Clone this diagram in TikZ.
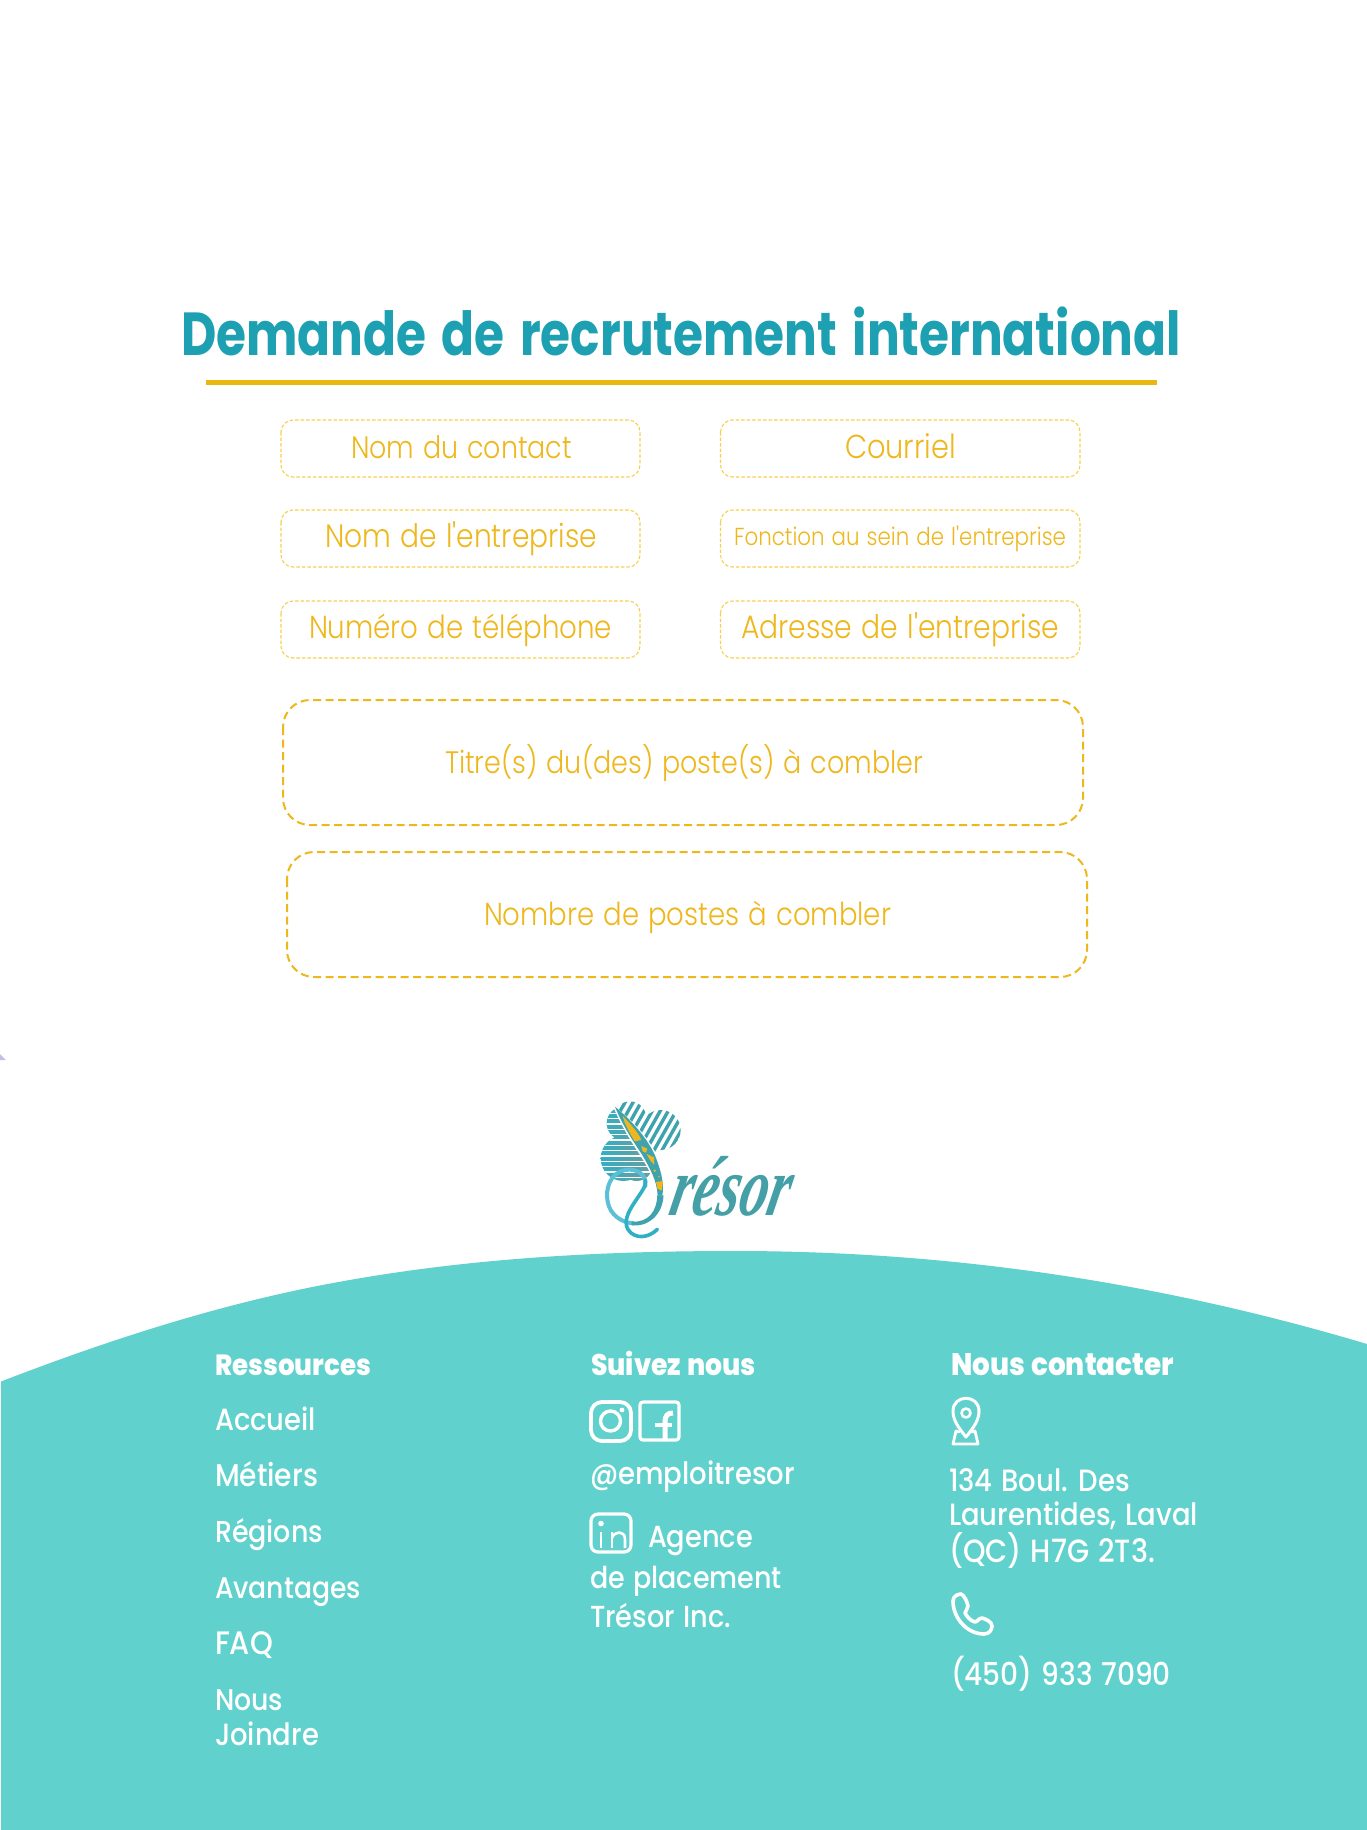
\documentclass[tikz,border=0pt]{standalone}
\usepackage{fontspec}
\usepackage{graphicx}
\setmainfont{Poppins}
\newfontfamily\flight[WordSpace=1.2]{Poppins Light}
\newfontfamily\fmed[WordSpace=1.2]{Poppins Medium}
\newfontfamily\fsemi[WordSpace=1.5]{Poppins Bold}
\newfontfamily\fxbold[WordSpace=1.2]{Poppins ExtraBold}
\newfontfamily\flogo{Liberation Serif}
\definecolor{teal1}{HTML}{1DA0B2}
\definecolor{gold}{HTML}{EEB71C}
\definecolor{goldu}{HTML}{E8B710}
\definecolor{goldl}{HTML}{F6D04A}
\definecolor{band}{HTML}{61D1CD}
\definecolor{lgA}{HTML}{3FA3AE}
\definecolor{lgB}{HTML}{2FB0C4}
\definecolor{lgC}{HTML}{6E9C9C}
\definecolor{lgT}{HTML}{449FA6}
\definecolor{lgQ}{HTML}{5BBFD8}
\usetikzlibrary{calc}
\tikzset{
  tx/.style={anchor=base west,inner sep=0pt,outer sep=0pt},
  smallbox/.style={draw=goldl,line width=1.1pt,dash pattern=on 3.5pt off 2pt,rounded corners=12pt},
  bigbox/.style={draw=gold,line width=2pt,dash pattern=on 8pt off 4.5pt,rounded corners=27pt},
  icon/.style={draw=white,line width=3pt,line cap=round,line join=round},
}
% name, x, baseline, width, y-stretch, colour, font, text
\newcommand\tb[8]{\node[tx,text=#6] (#1) at (#2,#3) {\scalebox{1}[#5]{\resizebox{#4pt}{!}{#7\fontsize{40}{48}\selectfont #8}}};}
\begin{document}
\begin{tikzpicture}[x=1pt,y=-1pt]
\useasboundingbox (0,0) rectangle (1367,1830);
\fill[white] (0,0) rectangle (1367,1830);

% title
\tb{title}{181}{355}{1000}{1.25}{teal1}{\fsemi}{Demande de recrutement international}
\coordinate (ulA) at (206,382.5); \coordinate (ulB) at (1157,382.5);
\draw[goldu,line width=5pt] (ulA) -- (ulB);

% small boxes
\draw[smallbox] (281,420) rectangle (640,477);
\draw[smallbox] (720.5,420) rectangle (1080,477);
\draw[smallbox] (281,510) rectangle (640,567);
\draw[smallbox] (720.5,510) rectangle (1080,567);
\draw[smallbox] (281,601) rectangle (640,658);
\draw[smallbox] (720.5,601) rectangle (1080,658);
\draw[bigbox] (283,700) rectangle (1083,825);
\draw[bigbox] (287,852) rectangle (1087,977);

\tb{f1}{351}{458}{221}{1.15}{gold}{\flight}{Nom du contact}
\tb{f2}{845}{458}{111}{1.15}{gold}{\flight}{Courriel}
\tb{f3}{325}{547}{272}{1.15}{gold}{\flight}{Nom de l'entreprise}
\tb{f4}{734}{545}{332}{1.15}{gold}{\flight}{Fonction au sein de l'entreprise}
\tb{f5}{309}{638}{303}{1.15}{gold}{\flight}{Numéro de téléphone}
\tb{f6}{741}{638}{318}{1.15}{gold}{\flight}{Adresse de l'entreprise}
\tb{f7}{445}{773}{478}{1.15}{gold}{\flight}{Titre(s) du(des) poste(s) à combler}
\tb{f8}{484}{925}{407}{1.15}{gold}{\flight}{Nombre de postes à combler}

% corner speck
\fill[black!30!blue!25] (0,1054) -- (6,1060) -- (0,1060) -- cycle;

% footer
\fill[band] (1,1381.5) .. controls (111,1339) and (222,1303.5) .. (333,1283)
  .. controls (467,1258) and (601,1251) .. (735,1251)
  .. controls (946,1251) and (1156,1281) .. (1367,1344) -- (1367,1830) -- (1,1830) -- cycle;

% logo
\begin{scope}[shift={(570,1080)},x=0.3333pt,y=-0.3333pt]
  % upper cloud with diagonal stripes
  \begin{scope}
    \clip (135,78) .. controls (185,125) and (230,190) .. (265,243) -- (345,243) -- (345,55) -- (135,55) -- cycle;
    \clip (180,112) circle (48) (272,150) circle (60) (228,185) circle (48);
    \foreach \i in {-4,...,14} {
      \draw[lgA,line width=3.4pt] ($(110,250)+(\i*24,0)$) -- ++(110,-195);
    }
  \end{scope}
  % left cloud with horizontal stripes
  \begin{scope}
    \clip (130,80) .. controls (170,130) and (215,195) .. (250,262) -- (245,320) -- (80,320) -- (80,60) -- (130,60) -- cycle;
    \clip (160,130) circle (50) (160,235) circle (68) (200,255) circle (48);
    \shade[left color=lgB,right color=lgC] (85,70) rectangle (255,320);
    \foreach \i in {0,...,15} {
      \draw[white,line width=1.5pt] (85,{84+\i*16}) -- (255,{84+\i*16});
    }
  \end{scope}
  % Q ribbon
  \draw[lgQ,line width=4pt,line cap=round] (226,318)
    .. controls (232,285) and (200,263) .. (165,270)
    .. controls (122,278) and (105,325) .. (113,365)
    .. controls (120,405) and (155,428) .. (190,430);
  \draw[lgB,line width=3.6pt,line cap=round] (262,448)
    .. controls (235,475) and (195,478) .. (175,450)
    .. controls (155,420) and (185,380) .. (205,350)
    .. controls (218,330) and (228,320) .. (226,300);
  \fill[lgA] (185,425) .. controls (235,428) and (262,395) .. (262,340)
    -- (280,335) .. controls (285,390) and (245,442) .. (185,436) -- cycle;
  % leaf
  \fill[white] (128,76) .. controls (190,120) and (250,190) .. (268,245)
    .. controls (283,285) and (288,320) .. (282,345) -- (258,345)
    .. controls (255,300) and (235,265) .. (210,225) .. controls (180,180) and (150,130) .. (128,76) -- cycle;
  \fill[lgA] (135,80) .. controls (190,125) and (245,190) .. (262,245)
    .. controls (277,285) and (282,320) .. (277,345) -- (263,345)
    .. controls (260,300) and (240,265) .. (215,222)
    .. controls (185,178) and (155,130) .. (135,80) -- cycle;
  \fill[gold] (158,108) .. controls (180,130) and (205,158) .. (214,180) -- (194,184) .. controls (180,160) and (165,135) .. (158,108) -- cycle;
  \fill[gold] (214,198) -- (232,206) -- (228,218) -- (218,214) -- cycle;
  \fill[gold] (230,222) -- (252,232) -- (252,254) -- (240,240) -- cycle;
  \fill[gold] (258,306) -- (279,303) -- (275,332) -- (263,326) -- cycle;
  \fill[gold] (254,272) circle (4) (267,290) circle (2.5);
  % wordmark
  \begin{scope}[shift={(292,405)},xslant=0.22]
    \node[anchor=base west,inner sep=0pt,text=lgT,transform shape] (logotxt) at (0,0)
      {\scalebox{0.74}[1.12]{\flogo\bfseries\itshape\fontsize{76}{80}\selectfont résor}};
  \end{scope}
\end{scope}

% footer headings
\tb{h1}{215}{1375}{156}{1.12}{white}{\fxbold}{Ressources}
\tb{h2}{591}{1375}{165}{1.12}{white}{\fxbold}{Suivez nous}
\tb{h3}{951}{1375}{223}{1.12}{white}{\fxbold}{Nous contacter}

\tb{l1}{215}{1430}{101}{1.12}{white}{\fmed}{Accueil}
\tb{l2}{215}{1486}{103}{1.12}{white}{\fmed}{Métiers}
\tb{l3}{215}{1542}{108}{1.12}{white}{\fmed}{Régions}
\tb{l4}{215}{1598}{146}{1.12}{white}{\fmed}{Avantages}
\tb{l5}{215}{1654}{58}{1.12}{white}{\fmed}{FAQ}
\tb{l6}{215}{1710}{68}{1.12}{white}{\fmed}{Nous}
\tb{l7}{215}{1745}{104}{1.12}{white}{\fmed}{Joindre}

\tb{m1}{590}{1484}{205}{1.12}{white}{\fmed}{@emploitresor}
\tb{m2}{648}{1547}{105}{1.12}{white}{\fmed}{Agence}
\tb{m3}{590}{1588}{192}{1.12}{white}{\fmed}{de placement}
\tb{m4}{590}{1627}{141}{1.12}{white}{\fmed}{Trésor Inc.}

\tb{r1}{949}{1491}{181}{1.12}{white}{\fmed}{134 Boul. Des}
\tb{r2}{949}{1525}{249}{1.12}{white}{\fmed}{Laurentides, Laval}
\tb{r3}{949}{1562}{206}{1.12}{white}{\fmed}{(QC) H7G 2T3.}
\tb{r4}{951}{1685}{220}{1.12}{white}{\fmed}{(450) 933 7090}

% instagram
\draw[icon,line width=3.8pt] (591,1402) [rounded corners=11pt] rectangle (631,1441);
\draw[icon,line width=3.4pt] (610.5,1421) circle (10);
\fill[white] (622,1410) circle (2.4);
% facebook
\draw[icon,line width=3.2pt] (640,1402) [rounded corners=3pt] rectangle (679,1440);
\draw[icon,line width=5pt,line cap=butt] (665,1441) -- (665,1422) .. controls (665,1415) and (668,1413) .. (673,1413);
\draw[icon,line width=4.4pt,line cap=butt] (655,1425) -- (672,1425);
% linkedin
\draw[icon,line width=3.2pt] (591,1514) [rounded corners=7pt] rectangle (631,1552);
\fill[white] (601,1523.5) circle (2.8);
\draw[icon,line width=2.6pt,line cap=butt] (601,1532) -- (601,1548);
\draw[icon,line width=2.6pt,line cap=butt] (612,1532) -- (612,1548);
\draw[icon,line width=2.6pt,line cap=butt] (612,1538) .. controls (614,1531) and (625,1530) .. (625,1539) -- (625,1548);

% map pin
\draw[icon] (966,1437) .. controls (958,1427) and (953,1420) .. (953,1411)
  .. controls (953,1394) and (979,1394) .. (979,1411)
  .. controls (979,1420) and (974,1427) .. (966,1437) -- cycle;
\draw[icon,line width=2.6pt] (966,1413) circle (4.5);
\draw[icon,line width=2.8pt] (959,1432) -- (956,1431) -- (953,1444) -- (978,1444) -- (975,1431) -- (972,1432);

% phone
\draw[icon,line width=3.6pt] (953,1601) .. controls (953,1596) and (958,1594) .. (961,1594)
  .. controls (964,1595) and (967,1601) .. (968,1606)
  .. controls (968,1609) and (965,1611) .. (965,1613)
  .. controls (967,1617) and (971,1621) .. (975,1622)
  .. controls (977,1622) and (979,1618) .. (982,1618)
  .. controls (986,1619) and (992,1622) .. (992,1626)
  .. controls (992,1630) and (989,1634) .. (984,1634)
  .. controls (967,1634) and (953,1618) .. (953,1601) -- cycle;
\end{tikzpicture}
\end{document}
